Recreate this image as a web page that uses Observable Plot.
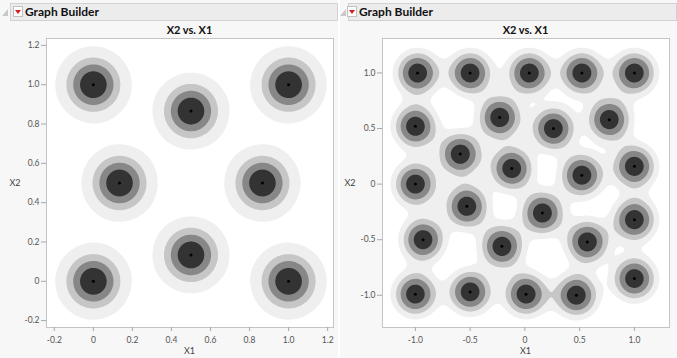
<!DOCTYPE html>
<html><head><meta charset="utf-8">
<script src="https://cdn.jsdelivr.net/npm/d3@7"></script>
<script src="https://cdn.jsdelivr.net/npm/@observablehq/plot@0.6"></script>
<style>
html,body{margin:0;padding:0;}
body{width:677px;height:358px;position:relative;overflow:hidden;background:#f7f7f7;font-family:Lato,"Open Sans",sans-serif;}
.abs{position:absolute;}
.hdr{position:absolute;top:3px;height:16px;background:#ececec;border:1px solid #d2d2d2;}
.htxt{position:absolute;top:3px;font-weight:bold;font-size:12px;line-height:17px;color:#111;}
.title{position:absolute;top:22px;font-weight:bold;font-size:11px;line-height:16px;text-align:center;color:#111;}
.alab{position:absolute;font-size:9px;line-height:12px;color:#444;text-align:center;}
.sep{position:absolute;top:0;left:338px;width:2px;height:358px;background:#fff;}
</style>
</head><body>
<div id="root"></div>
<script>
// ---- data ----
const leftX1 = [0, 0.5, 1, 0.134, 0.866, 0.5, 0, 1];
const leftX2 = [1, 0.866, 1, 0.5, 0.5, 0.134, 0, 0];
const rightX1 = [-0.98, -0.50, 0.04, 0.52, 1.00,
                 -1.00, -0.23, 0.26, 0.77,
                 -0.59, -0.12, 0.52, 1.00,
                 -1.00, -0.53, 0.16, 1.00,
                 -0.93, -0.21, 0.57, 1.00,
                 -1.00, -0.50, 0.01, 0.47];
const rightX2 = [1.00, 1.00, 1.00, 1.00, 1.00,
                 0.52, 0.60, 0.50, 0.58,
                 0.27, 0.14, 0.08, 0.16,
                 0.00, -0.20, -0.26, -0.32,
                 -0.50, -0.56, -0.52, -0.85,
                 -0.99, -0.97, -0.99, -1.00];
const leftTicks = [-0.2, 0, 0.2, 0.4, 0.6, 0.8, 1.0, 1.2];
const rightTicks = [-1.0, -0.5, 0, 0.5, 1.0];
const titleText = "X2 vs. X1";
const headerText = "Graph Builder";
const xLabel = "X1";
const yLabel = "X2";

// ---- styling ----
const bandFills = ["#efefef", "#c6c6c6", "#878787", "#333333"];
const fmt = d => d === 0 ? "0" : d.toFixed(1);

// Gaussian kernel density (bandwidth in data units), normalised to one kernel's peak
function kde(X1, X2, s) {
  return (x, y) => {
    let v = 0;
    for (let i = 0; i < X1.length; i++) {
      const dx = (x - X1[i]) / s, dy = (y - X2[i]) / s;
      v += Math.exp(-(dx * dx + dy * dy) / 2);
    }
    return v;
  };
}

function panel(X1, X2, opts) {
  const data = X1.map((x, i) => ({x, y: X2[i]}));
  const f = kde(X1, X2, opts.bw);
  const peak = d3.max(data, d => f(d.x, d.y));
  const T = opts.cuts.map(c => c * peak);
  return Plot.plot({
    width: opts.width, height: 328,
    marginLeft: opts.ml, marginRight: opts.mr, marginTop: 8, marginBottom: 31,
    style: {background: "transparent", fontFamily: "Lato, 'Open Sans', sans-serif", fontSize: "8.5px", color: "#555", overflow: "visible"},
    x: {domain: opts.xd, label: null},
    y: {domain: opts.yd, label: null},
    color: {type: "ordinal", domain: T, range: bandFills},
    marks: [
      Plot.frame({fill: "white", stroke: "none"}),
      Plot.contour({fill: f, x1: opts.xd[0], x2: opts.xd[1], y1: opts.yd[0], y2: opts.yd[1], thresholds: T, pixelSize: 1, stroke: "none", clip: true}),
      Plot.frame({stroke: "#c4c4c4"}),
      Plot.dot(data, {x: "x", y: "y", r: 1.5, fill: "black", stroke: "none"}),
      Plot.axisX({ticks: opts.ticks, tickFormat: fmt, tickSize: 4, tickPadding: 5, stroke: "#a8a8a8", fill: "#555", label: null}),
      Plot.axisY({ticks: opts.ticks, tickFormat: fmt, tickSize: 5, tickPadding: 2, stroke: "#a8a8a8", fill: "#555", label: null})
    ]
  });
}

const root = document.getElementById("root");
function add(html) { const d = document.createElement("div"); d.innerHTML = html; root.appendChild(d.firstElementChild); }

function header(x0, x1, iconX, textX) {
  add(`<div class="hdr" style="left:${x0}px;width:${x1 - x0}px"></div>`);
  add(`<svg class="abs" style="left:${x0 - 8}px;top:9px" width="7" height="8"><polygon points="6,0 6,7 0,7" fill="#c8c8c8"/></svg>`);
  add(`<svg class="abs" style="left:${iconX}px;top:6px" width="10" height="11"><rect x="0.5" y="0.5" width="9" height="10" fill="#fff" stroke="#c0c0c0"/><polygon points="2,4 8,4 5,8" fill="#d62020"/></svg>`);
  add(`<div class="htxt" style="left:${textX}px">${headerText}</div>`);
}

// left panel
header(10, 336, 13, 25);
add(`<div class="title" style="left:46px;width:287px">${titleText}</div>`);
const L = panel(leftX1, leftX2, {width: 338, ml: 46, mr: 5, xd: [-0.24, 1.23], yd: [-0.235, 1.235], ticks: leftTicks, bw: 0.102, cuts: [0.16, 0.4, 0.6, 0.8]});
L.style.position = "absolute"; L.style.left = "0px"; L.style.top = "30px";
root.appendChild(L);
add(`<div class="alab" style="left:46px;width:287px;top:345px">${xLabel}</div>`);
add(`<div class="alab" style="left:5px;width:20px;top:177px">${yLabel}</div>`);

// right panel
add(`<div class="sep"></div>`);
header(348, 675, 347, 359);
add(`<div class="title" style="left:382px;width:287px">${titleText}</div>`);
const R = panel(rightX1, rightX2, {width: 337, ml: 42, mr: 8, xd: [-1.30, 1.32], yd: [-1.29, 1.31], ticks: rightTicks, bw: 0.127, cuts: [0.2, 0.38, 0.57, 0.8]});
R.style.position = "absolute"; R.style.left = "340px"; R.style.top = "30px";
root.appendChild(R);
add(`<div class="alab" style="left:382px;width:287px;top:345px">${xLabel}</div>`);
add(`<div class="alab" style="left:340px;width:20px;top:177px">${yLabel}</div>`);
</script>
</body></html>
